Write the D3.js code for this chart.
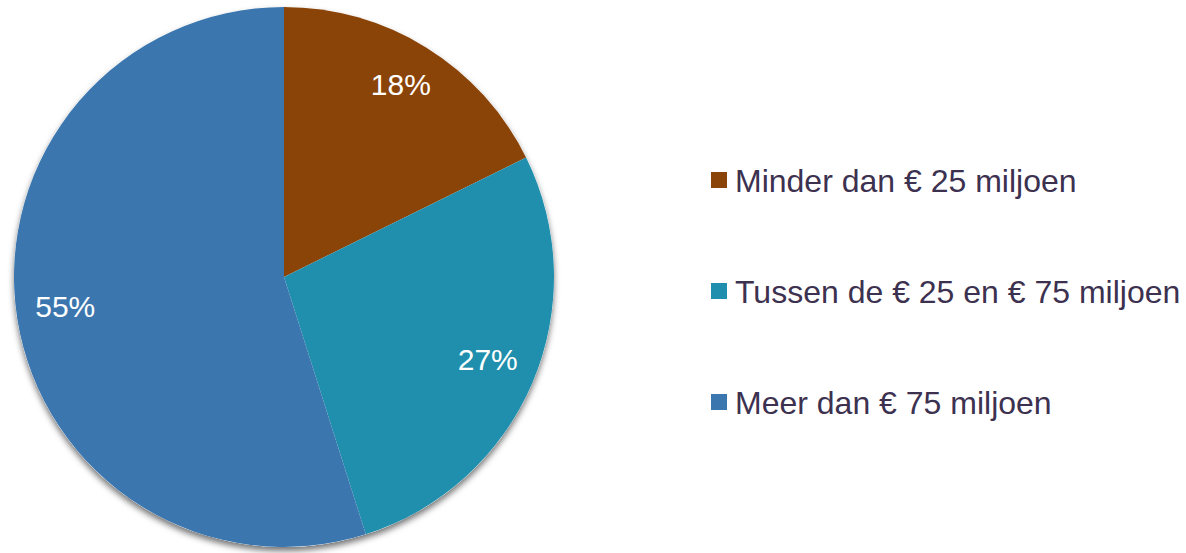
<!DOCTYPE html>
<html>
<head>
<meta charset="utf-8">
<script src="https://cdn.jsdelivr.net/npm/d3@7"></script>
<style>
  html, body { margin: 0; padding: 0; background: #fff; }
  svg { display: block; font-family: "Liberation Sans", Arial, sans-serif; }
</style>
</head>
<body>
<div class="container"></div>
<script>
// categories + shares
const categories = ["Minder dan € 25 miljoen", "Tussen de € 25 en € 75 miljoen", "Meer dan € 75 miljoen"];
const shares = [17.7, 27.4, 54.9];
const colors = ["#8B4408", "#1F8FAD", "#3B76AE"];

const width = 1186, height = 553;
const cx = 284, cy = 277, radius = 270;

const svg = d3.select(".container").append("svg")
  .attr("width", width)
  .attr("height", height);

const defs = svg.append("defs");
const filter = defs.append("filter").attr("id", "shadow")
  .attr("x", "-10%").attr("y", "-10%").attr("width", "120%").attr("height", "120%");
filter.append("feDropShadow")
  .attr("dx", 0).attr("dy", 4).attr("stdDeviation", 3)
  .attr("flood-color", "#000").attr("flood-opacity", 0.55);

const pie = d3.pie().sort(null).value(d => d);
const arcs = pie(shares);
const arc = d3.arc().innerRadius(0).outerRadius(radius);
const labelArc = d3.arc().innerRadius(radius * 0.82).outerRadius(radius * 0.82);

const g = svg.append("g").attr("transform", `translate(${cx},${cy})`);

// shadow under the whole pie
g.append("circle").attr("r", radius).attr("fill", "#fff").attr("filter", "url(#shadow)");

g.selectAll("path.slice")
  .data(arcs)
  .enter()
  .append("path")
  .attr("class", "slice")
  .attr("d", arc)
  .attr("fill", (d, i) => colors[i]);

g.selectAll("text.pct")
  .data(arcs)
  .enter()
  .append("text")
  .attr("class", "pct")
  .attr("transform", d => `translate(${labelArc.centroid(d)})`)
  .attr("text-anchor", "middle")
  .attr("dy", "0.2em")
  .attr("fill", "#fff")
  .style("font-size", "30px")
  .text(d => Math.round(d.data) + "%");

// legend
const legend = svg.append("g").attr("transform", "translate(711,180)");
const rows = legend.selectAll("g")
  .data(categories)
  .enter()
  .append("g")
  .attr("transform", (d, i) => `translate(0,${i * 111})`);

rows.append("rect")
  .attr("x", 0).attr("y", -8)
  .attr("width", 16).attr("height", 16)
  .attr("fill", (d, i) => colors[i]);

rows.append("text")
  .attr("x", 24)
  .attr("y", 0)
  .attr("dy", "0.36em")
  .attr("fill", "#3D3150")
  .style("font-size", "32px")
  .text(d => d);
</script>
</body>
</html>
